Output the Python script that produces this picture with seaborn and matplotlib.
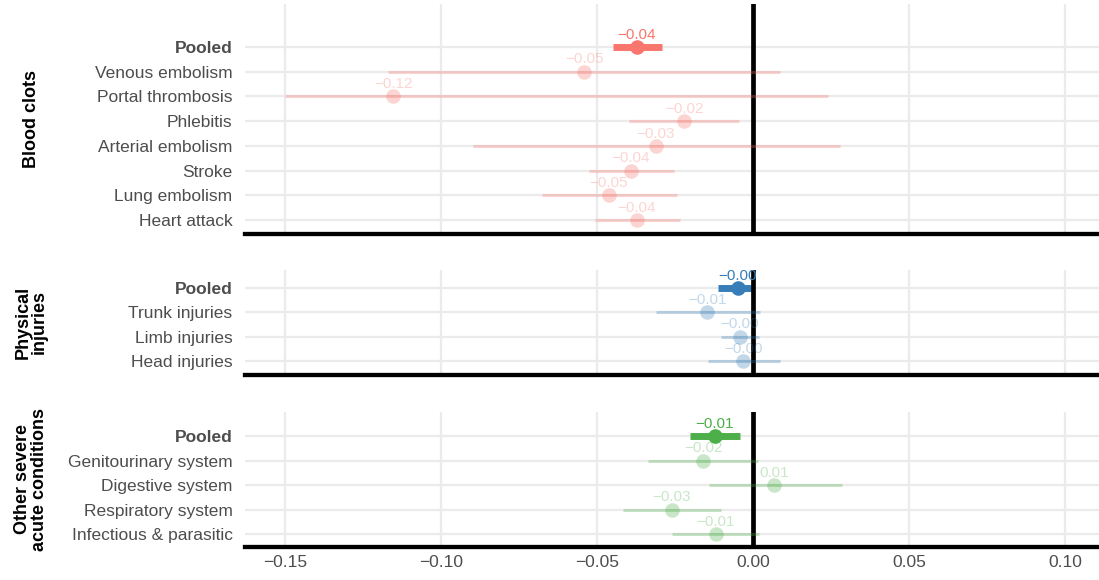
import matplotlib
matplotlib.use("Agg")
import matplotlib.pyplot as plt
import seaborn as sns
import pandas as pd
import numpy as np

# ---- data ----
blood_labels = ["Pooled", "Venous embolism", "Portal thrombosis", "Phlebitis",
                "Arterial embolism", "Stroke", "Lung embolism", "Heart attack"]
blood_est = [-0.0372, -0.0541, -0.1153, -0.0221, -0.0311, -0.0391, -0.0463, -0.0373]
blood_lo = [-0.0449, -0.1169, -0.1500, -0.0396, -0.0898, -0.0527, -0.0675, -0.0506]
blood_hi = [-0.0292, 0.0087, 0.0241, -0.0044, 0.0279, -0.0253, -0.0245, -0.0234]

phys_labels = ["Pooled", "Trunk injuries", "Limb injuries", "Head injuries"]
phys_est = [-0.0048, -0.0147, -0.0042, -0.0031]
phys_lo = [-0.0111, -0.0312, -0.0103, -0.0145]
phys_hi = [0.0003, 0.0023, 0.0019, 0.0088]

other_labels = ["Pooled", "Genitourinary system", "Digestive system",
                "Respiratory system", "Infectious & parasitic"]
other_est = [-0.0122, -0.0160, 0.0069, -0.0260, -0.0119]
other_lo = [-0.0202, -0.0335, -0.0142, -0.0418, -0.0258]
other_hi = [-0.0040, 0.0016, 0.0285, -0.0102, 0.0018]

group_names = ["Blood clots", "Physical\ninjuries", "Other severe\nacute conditions"]
group_colors = ["#F8766D", "#377EB8", "#4DAF4A"]

x_ticks = [-0.15, -0.10, -0.05, 0.00, 0.05, 0.10]

# ---- style ----
sns.set_theme(style="white")
plt.rcParams["font.family"] = ["Liberation Sans", "DejaVu Sans"]

W, H = 1099, 580
fig = plt.figure(figsize=(W / 100, H / 100), dpi=100)

# panel pixel extents (top, bottom) and y-limits in row units
panels = [
    (4, 234, (7.567, -1.74)),
    (270, 375, (3.575, -0.74)),
    (412, 547, (4.53, -0.98)),
]
left_px = 245
data_sets = [
    (blood_labels, blood_est, blood_lo, blood_hi),
    (phys_labels, phys_est, phys_lo, phys_hi),
    (other_labels, other_est, other_lo, other_hi),
]

def fmt(v):
    return f"{v:.2f}".replace("-", "\u2212")

for i, ((top, bot, ylim), (labs, est, lo, hi), gname, col) in enumerate(
        zip(panels, data_sets, group_names, group_colors)):
    ax = fig.add_axes([left_px / W, 1 - bot / H, (W - left_px) / W, (bot - top) / H])
    df = pd.DataFrame({"label": labs, "est": est, "lo": lo, "hi": hi})
    df["row"] = np.arange(len(df))
    df["pooled"] = df["label"] == "Pooled"

    # gridlines
    ax.set_xlim(-0.1628, 0.1109)
    ax.set_ylim(*ylim)
    ax.set_xticks(x_ticks)
    ax.set_yticks(df["row"])
    ax.grid(True, color="#EBEBEB", linewidth=1.6, zorder=0)
    ax.set_axisbelow(True)

    # CIs
    sub = df[~df["pooled"]]
    ax.hlines(sub["row"], sub["lo"], sub["hi"], color=col, alpha=0.3, linewidth=2.2, zorder=3)
    subp = df[df["pooled"]]
    ax.hlines(subp["row"], subp["lo"], subp["hi"], color=col, linewidth=5, zorder=2)

    # points
    sns.scatterplot(data=sub, x="est", y="row", ax=ax, color=col, alpha=0.3,
                    s=110, linewidth=0, zorder=4, legend=False)
    sns.scatterplot(data=subp, x="est", y="row", ax=ax, color=col,
                    s=110, linewidth=0, zorder=4, legend=False)

    # zero line
    ax.axvline(0, color="black", linewidth=3.4, zorder=2.5)

    # value labels
    for _, r in df.iterrows():
        ax.annotate(fmt(r["est"]), (r["est"], r["row"]), xytext=(0, 6.0),
                    textcoords="offset points", ha="center", va="baseline",
                    fontsize=11, color=col, alpha=1.0 if r["pooled"] else 0.3,
                    zorder=5)

    ax.set_ylim(*ylim)
    ax.set_xlim(-0.1628, 0.1109)
    ax.set_yticklabels(df["label"], fontsize=12.5, color="#4D4D4D")
    for t in ax.get_yticklabels():
        if t.get_text() == "Pooled":
            t.set_fontweight("bold")
    if i == 2:
        ax.set_xticklabels([fmt(v) for v in x_ticks], fontsize=12.5, color="#4D4D4D")
    else:
        ax.set_xticklabels([])
    ax.tick_params(axis="both", length=0)
    ax.tick_params(axis="y", pad=9)
    ax.tick_params(axis="x", pad=6)
    ax.set_xlabel("")
    ax.set_ylabel("")
    for s in ["top", "right", "left"]:
        ax.spines[s].set_visible(False)
    ax.spines["bottom"].set_visible(True)
    ax.spines["bottom"].set_color("black")
    ax.spines["bottom"].set_linewidth(3.1)
    ax.spines["bottom"].set_zorder(6)

    fig.text(31 / W, 1 - ((top + bot) / 2) / H, gname, rotation=90, ha="center",
             va="center", fontsize=13, fontweight="bold", color="black",
             linespacing=0.95)

fig.savefig("out.png", dpi=100)
